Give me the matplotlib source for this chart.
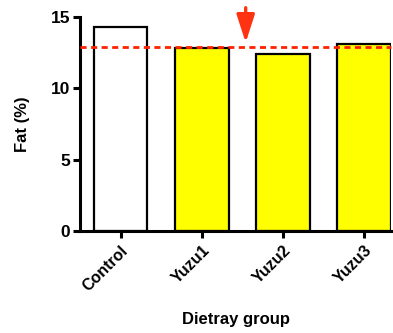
import matplotlib
matplotlib.use("Agg")
import matplotlib.pyplot as plt
import numpy as np

groups = ["Control", "Yuzu1", "Yuzu2", "Yuzu3"]
fat = [14.3, 12.8, 12.4, 13.1]
colors = ["white", "#ffff00", "#ffff00", "#ffff00"]
ref_level = 12.9
yticks = [0, 5, 10, 15]

plt.rcParams["font.family"] = ["Liberation Sans", "DejaVu Sans"]
plt.rcParams["font.weight"] = "bold"

fig = plt.figure(figsize=(3.93, 3.33), dpi=100)
ax = fig.add_axes([0.2036, 0.306, 0.7914, 0.643])

x = np.arange(len(groups))
ax.bar(x, fat, width=0.66, color=colors, edgecolor="black", linewidth=1.6, zorder=2)

# dashed reference line at control-ish level
ax.axhline(ref_level, color="#ff2200", linestyle=(0, (2.2, 1.6)), linewidth=2, zorder=3, clip_on=False)

# arrow pointing down at the gap
ax.annotate("", xy=(1.54, 13.2), xytext=(1.54, 15.65),
            arrowprops=dict(arrowstyle="-|>,head_length=1.7,head_width=0.55",
                            color="#ff3311", lw=2.4, shrinkA=0, shrinkB=0),
            annotation_clip=False)

ax.set_xlim(-0.5, 3.33)
ax.set_ylim(0, 15)
ax.set_yticks(yticks)
ax.set_xticks(x)
ax.set_xticklabels(groups, rotation=45, ha="right", rotation_mode="anchor", fontsize=11.5, fontweight="bold")
ax.tick_params(axis="y", labelsize=12.5, width=2.2, length=5, direction="out", pad=2)
ax.tick_params(axis="x", width=2.2, length=5, direction="out")
for lab in ax.get_yticklabels():
    lab.set_fontweight("bold")

for side in ["top", "right"]:
    ax.spines[side].set_visible(False)
for side in ["left", "bottom"]:
    ax.spines[side].set_linewidth(2.2)

ax.set_ylabel("Fat (%)", fontsize=12, fontweight="bold")
ax.yaxis.set_label_coords(-0.16, 0.5)
ax.set_xlabel("Dietray group", fontsize=12, fontweight="bold")
ax.xaxis.set_label_coords(0.5, -0.38)

fig.savefig("out.png", dpi=100)
